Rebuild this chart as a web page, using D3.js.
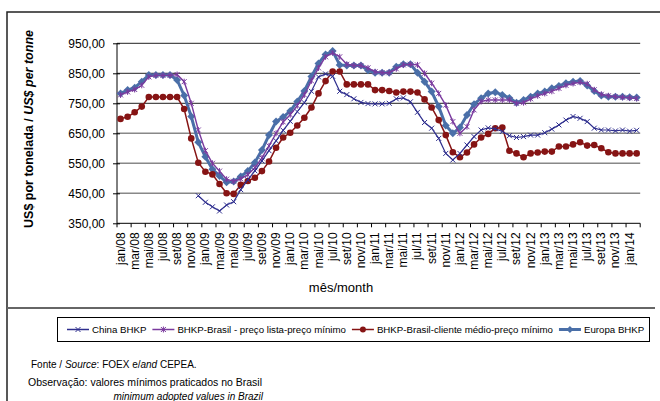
<!DOCTYPE html>
<html><head><meta charset="utf-8">
<script src="https://cdn.jsdelivr.net/npm/d3@7"></script>
<style>body{margin:0;background:#fff}svg{display:block}</style>
</head><body>
<svg id="c" width="660" height="401"></svg>
<script>
const months = [
 "jan/08","fev/08","mar/08","abr/08","mai/08","jun/08","jul/08","ago/08","set/08","out/08","nov/08","dez/08",
 "jan/09","fev/09","mar/09","abr/09","mai/09","jun/09","jul/09","ago/09","set/09","out/09","nov/09","dez/09",
 "jan/10","fev/10","mar/10","abr/10","mai/10","jun/10","jul/10","ago/10","set/10","out/10","nov/10","dez/10",
 "jan/11","fev/11","mar/11","abr/11","mai/11","jun/11","jul/11","ago/11","set/11","out/11","nov/11","dez/11",
 "jan/12","fev/12","mar/12","abr/12","mai/12","jun/12","jul/12","ago/12","set/12","out/12","nov/12","dez/12",
 "jan/13","fev/13","mar/13","abr/13","mai/13","jun/13","jul/13","ago/13","set/13","out/13","nov/13","dez/13",
 "jan/14","fev/14"];
const yTicks = [350,450,550,650,750,850,950];

const china = [null,null,null,null,null,null,null,null,null,null,null,442,
 420,405,391,411,422,462,495,525,558,592,625,660,
 690,722,752,790,838,848,840,790,779,765,753,749,
 748,748,750,765,768,755,720,686,667,633,583,561,
 583,611,639,661,668,665,656,642,636,639,644,644,
 652,664,678,694,706,700,689,667,661,661,658,661,
 657,660];
const brasilLista = [778,788,796,810,838,843,843,843,846,822,750,661,
 592,550,524,497,490,498,512,535,568,608,650,688,
 712,742,778,825,868,905,918,905,880,876,876,868,
 855,852,852,865,878,880,878,850,817,783,744,689,
 650,672,728,756,761,761,761,761,750,752,765,775,
 783,790,800,810,816,820,815,795,780,775,772,770,
 768,766];
const brasilCliente = [698,705,720,739,771,771,771,771,771,731,633,552,
 522,513,481,450,448,478,491,502,524,556,602,636,
 652,676,702,736,783,824,856,856,813,813,813,813,
 794,794,791,786,789,789,786,763,736,694,644,587,
 570,586,613,636,648,667,669,592,583,570,583,586,
 589,589,606,606,613,620,609,611,600,587,583,583,
 583,583];
const europa = [783,794,802,822,844,844,844,844,828,776,706,620,
 572,530,508,487,489,506,524,553,594,644,689,704,
 724,756,791,839,883,913,924,878,876,876,876,860,
 852,852,852,872,880,880,852,822,789,739,676,650,
 669,711,747,767,783,787,778,768,752,761,772,783,
 789,800,808,817,822,824,809,791,776,772,772,772,
 770,769];
const seriesNames = ["China BHKP","BHKP-Brasil - preço lista-preço mínimo","BHKP-Brasil-cliente médio-preço mínimo","Europa BHKP"];

const svg = d3.select("#c");
const F = "Liberation Sans, Arial, sans-serif";
const L = 117, R = 640.2, T = 43.3, B = 223.3;

const x = d3.scaleBand().domain(months).range([L, R]).padding(0);
const bw = x.bandwidth();
const cx = i => x(months[i]) + bw/2;
const y = d3.scaleLinear().domain([350, 950]).range([B, T]);
const loc = d3.formatLocale({decimal: ",", thousands: ".", grouping: [3], currency: ["", ""]});
const fmt = loc.format(".2f");

// outer frame
svg.append("path").attr("d", "M7,401 V12 H660").attr("fill", "none").attr("stroke", "#222").attr("stroke-width", 1.5);
svg.append("line").attr("x1", 7).attr("x2", 655).attr("y1", 308).attr("y2", 308).attr("stroke", "#666").attr("stroke-width", 2);

// gridlines
svg.append("g").selectAll("line").data(yTicks.filter(v => v > 350)).join("line")
  .attr("x1", L).attr("x2", R)
  .attr("y1", d => y(d)).attr("y2", d => y(d))
  .attr("stroke", d => d >= 750 ? "#222" : "#888")
  .attr("stroke-width", d => d >= 750 ? 1 : 1.4);

// y axis
const ya = svg.append("g").attr("transform", `translate(${L},0)`)
  .call(d3.axisLeft(y).tickValues(yTicks).tickFormat(fmt).tickSize(4).tickPadding(8));
ya.select(".domain").attr("stroke", "#000").attr("d", `M0,${T}V${B}`);
ya.selectAll(".tick line").attr("x1", -4).attr("x2", 3).attr("stroke", "#000");
ya.selectAll(".tick text").attr("font-family", F).attr("font-size", 12).attr("fill", "#000");

// x axis
const xa = svg.append("g").attr("transform", `translate(0,${B})`);
xa.append("line").attr("x1", L).attr("x2", R).attr("stroke", "#000");
const bounds = d3.range(0, months.length + 1, 2);
xa.selectAll("line.t").data(bounds).join("line").attr("class", "t")
  .attr("x1", d => d < months.length ? x(months[d]) : R)
  .attr("x2", d => d < months.length ? x(months[d]) : R)
  .attr("y1", 0).attr("y2", 4).attr("stroke", "#000");
xa.selectAll("text").data(months.filter((m, i) => i % 2 === 0)).join("text")
  .attr("transform", d => `translate(${x(d) + bw/2},9) rotate(-90)`)
  .attr("text-anchor", "end").attr("dominant-baseline", "central")
  .attr("font-family", F).attr("font-size", 12).attr("fill", "#000")
  .text(d => d);

// axis titles
svg.append("text").attr("transform", "translate(33,129) rotate(-90)")
  .attr("text-anchor", "middle").attr("font-family", F).attr("font-size", 12.5)
  .attr("font-weight", "bold").attr("fill", "#000")
  .call(t => { t.append("tspan").text("US$ por tonelada / "); t.append("tspan").attr("font-style", "italic").text("US$ per tonne"); });
svg.append("text").attr("x", 341).attr("y", 292).attr("text-anchor", "middle")
  .attr("font-family", F).attr("font-size", 13).attr("fill", "#000").text("mês/month");

// series
const colors = {china: "#2E2E8E", lista: "#7A3A9E", cliente: "#861414", europa: "#4A6FA8"};
const line = d3.line().defined(d => d != null).x((d, i) => cx(i)).y(d => y(d));
const data = (arr) => arr.map((v, i) => ({v, i})).filter(d => d.v != null);

function xMark(g, px, py, s, col, star) {
  g.append("path").attr("d", `M${px-s},${py-s}L${px+s},${py+s}M${px-s},${py+s}L${px+s},${py-s}` + (star ? `M${px},${py-s-0.5}V${py+s+0.5}` : ""))
    .attr("stroke", col).attr("stroke-width", 1).attr("fill", "none");
}
function diamond(g, px, py, s, col) {
  g.append("path").attr("d", `M${px},${py-s}L${px+s},${py}L${px},${py+s}L${px-s},${py}Z`).attr("fill", col);
}

// Europa
const gE = svg.append("g");
gE.append("path").attr("d", line(europa)).attr("fill", "none").attr("stroke", colors.europa).attr("stroke-width", 3);
data(europa).forEach(d => diamond(gE, cx(d.i), y(d.v), 4, colors.europa));
// Brasil cliente
const gC = svg.append("g");
gC.append("path").attr("d", line(brasilCliente)).attr("fill", "none").attr("stroke", colors.cliente).attr("stroke-width", 1.5);
gC.selectAll("circle").data(data(brasilCliente)).join("circle")
  .attr("cx", d => cx(d.i)).attr("cy", d => y(d.v)).attr("r", 3.3).attr("fill", colors.cliente);
// Brasil lista
const gL = svg.append("g");
gL.append("path").attr("d", line(brasilLista)).attr("fill", "none").attr("stroke", colors.lista).attr("stroke-width", 1.4);
data(brasilLista).forEach(d => xMark(gL, cx(d.i), y(d.v), 2.5, colors.lista, true));
// China
const gCh = svg.append("g");
gCh.append("path").attr("d", line(china)).attr("fill", "none").attr("stroke", colors.china).attr("stroke-width", 1.2);
data(china).forEach(d => xMark(gCh, cx(d.i), y(d.v), 2.5, colors.china, false));

// legend
svg.append("rect").attr("x", 57.5).attr("y", 317.5).attr("width", 592).attr("height", 24)
  .attr("fill", "#fff").attr("stroke", "#000").attr("stroke-width", 1);
const lg = svg.append("g");
const ly = 329.5;
let lx = 67;
const keys = ["china", "lista", "cliente", "europa"];
seriesNames.forEach((name, k) => {
  const col = colors[keys[k]];
  lg.append("line").attr("x1", lx).attr("x2", lx + 22).attr("y1", ly).attr("y2", ly)
    .attr("stroke", col).attr("stroke-width", k === 3 ? 3 : 1.5);
  const mx = lx + 11;
  if (k === 0) xMark(lg, mx, ly, 2.5, col, false);
  if (k === 1) xMark(lg, mx, ly, 2.5, col, true);
  if (k === 2) lg.append("circle").attr("cx", mx).attr("cy", ly).attr("r", 3).attr("fill", col);
  if (k === 3) diamond(lg, mx, ly, 3.5, col);
  const t = lg.append("text").attr("x", lx + 25).attr("y", ly + 3.5)
    .attr("font-family", F).attr("font-size", 9.7).attr("fill", "#000").text(name);
  lx = lx + 25 + t.node().getComputedTextLength() + 6;
});

// notes
svg.append("text").attr("x", 31).attr("y", 368).attr("font-family", F).attr("font-size", 10).attr("fill", "#000")
  .call(t => { t.append("tspan").text("Fonte / "); t.append("tspan").attr("font-style", "italic").text("Source");
               t.append("tspan").text(": FOEX e/"); t.append("tspan").attr("font-style", "italic").text("and");
               t.append("tspan").text(" CEPEA."); });
svg.append("text").attr("x", 28).attr("y", 386).attr("font-family", F).attr("font-size", 10.5).attr("fill", "#000")
  .text("Observação: valores mínimos praticados no Brasil");
svg.append("text").attr("x", 263).attr("y", 400).attr("text-anchor", "end").attr("font-family", F)
  .attr("font-size", 10).attr("font-style", "italic").attr("fill", "#000")
  .text("minimum adopted values in Brazil");
</script>
</body></html>
